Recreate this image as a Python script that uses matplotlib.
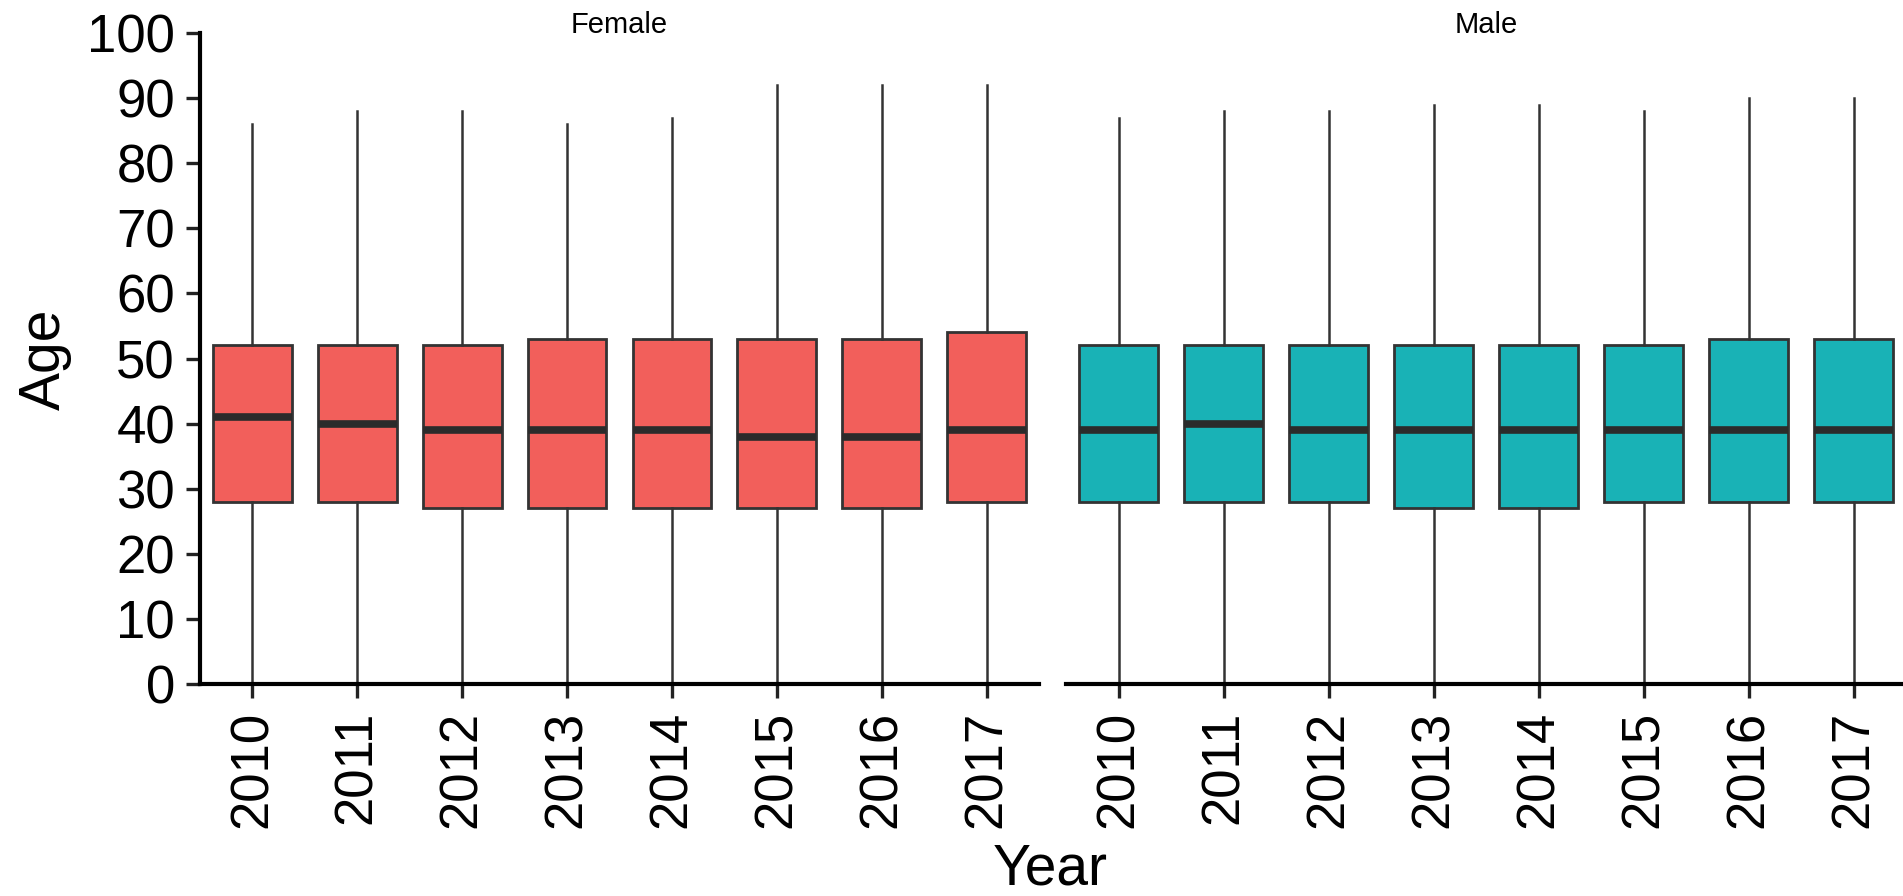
import matplotlib
matplotlib.use("Agg")
import matplotlib.pyplot as plt

plt.rcParams['font.family'] = ['Liberation Sans', 'DejaVu Sans']

# Data (box stats per year)
years = ['2010', '2011', '2012', '2013', '2014', '2015', '2016', '2017']
panels = ['Female', 'Male']

female_low = [0, 0, 0, 0, 0, 0, 0, 0]
female_q1 = [28, 28, 27, 27, 27, 27, 27, 28]
female_med = [41, 40, 39, 39, 39, 38, 38, 39]
female_q3 = [52, 52, 52, 53, 53, 53, 53, 54]
female_high = [86, 88, 88, 86, 87, 92, 92, 92]

male_low = [0, 0, 0, 0, 0, 0, 0, 0]
male_q1 = [28, 28, 28, 27, 27, 28, 28, 28]
male_med = [39, 40, 39, 39, 39, 39, 39, 39]
male_q3 = [52, 52, 52, 52, 52, 52, 53, 53]
male_high = [87, 88, 88, 89, 89, 88, 90, 90]

colors = ['#F25F5B', '#19B2B6']
edge = '#333333'

W, H = 1903, 896
fig = plt.figure(figsize=(W / 100, H / 100), dpi=100)

bottom = (H - 684) / H
height = (684 - 33) / H
ax_l = fig.add_axes([200 / W, bottom, 839 / W, height])
ax_r = fig.add_axes([1066 / W, bottom, 840 / W, height])

data = [
    (female_low, female_q1, female_med, female_q3, female_high),
    (male_low, male_q1, male_med, male_q3, male_high),
]

for ax, name, col, (lo, q1, med, q3, hi) in zip([ax_l, ax_r], panels, colors, data):
    stats = []
    for i in range(len(years)):
        stats.append({'whislo': lo[i], 'q1': q1[i], 'med': med[i],
                      'q3': q3[i], 'whishi': hi[i], 'fliers': []})
    ax.bxp(stats, positions=range(len(years)), widths=0.75,
           patch_artist=True, showcaps=False, showfliers=False,
           boxprops=dict(facecolor=col, edgecolor=edge, linewidth=2.0),
           medianprops=dict(color='#2b2b2b', linewidth=5.5, solid_capstyle='butt'),
           whiskerprops=dict(color=edge, linewidth=1.8))
    ax.set_xlim(-0.5, 7.5)
    ax.set_ylim(0, 100)
    ax.set_xticks(range(len(years)))
    ax.set_xticklabels(years, rotation=90, fontsize=38)
    for s in ['top', 'right']:
        ax.spines[s].set_visible(False)
    ax.spines['bottom'].set_linewidth(3.0)
    ax.spines['left'].set_linewidth(3.0)
    ax.tick_params(axis='x', length=10, width=2.4, pad=9, color='#222222')
    ax.tick_params(axis='y', length=10, width=2.4, pad=8, labelsize=38, color='#222222')
    ax.text(0.5, 1.0, name, transform=ax.transAxes, ha='center', va='baseline',
            fontsize=21)

ax_l.set_yticks(range(0, 101, 10))
ax_r.spines['left'].set_visible(False)
ax_r.set_yticks([])

fig.text(45 / W, 1 - 359 / H, 'Age', rotation=90, ha='center', va='center', fontsize=41)
fig.text(1050 / W, 1 - 869 / H, 'Year', ha='center', va='center', fontsize=41)

fig.savefig('out.png', dpi=100)
